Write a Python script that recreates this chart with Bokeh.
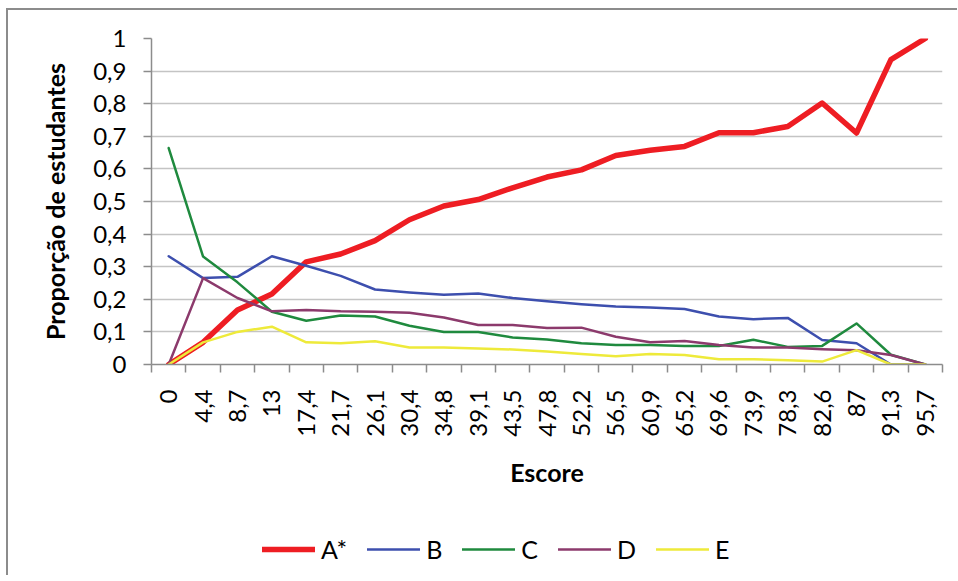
import math
from bokeh.plotting import figure
from bokeh.layouts import column
from bokeh.models import Range1d, FixedTicker, Legend, LegendItem
from bokeh.embed import file_html
from bokeh.resources import INLINE

categories = ["0", "4,4", "8,7", "13", "17,4", "21,7", "26,1", "30,4", "34,8", "39,1",
              "43,5", "47,8", "52,2", "56,5", "60,9", "65,2", "69,6", "73,9", "78,3",
              "82,6", "87", "91,3", "95,7"]

serie_a = [0, 0.068, 0.167, 0.216, 0.315, 0.339, 0.38, 0.444, 0.486, 0.506, 0.542, 0.575,
           0.597, 0.641, 0.657, 0.669, 0.711, 0.711, 0.730, 0.802, 0.71, 0.935, 1.0]
serie_b = [0.332, 0.265, 0.269, 0.332, 0.303, 0.272, 0.23, 0.221, 0.214, 0.218, 0.204, 0.194,
           0.185, 0.178, 0.175, 0.17, 0.147, 0.139, 0.143, 0.075, 0.065, 0, 0]
serie_c = [0.664, 0.331, 0.252, 0.162, 0.134, 0.15, 0.147, 0.119, 0.1, 0.1, 0.083, 0.077,
           0.065, 0.06, 0.06, 0.057, 0.057, 0.076, 0.054, 0.057, 0.126, 0.03, 0]
serie_d = [0, 0.265, 0.204, 0.163, 0.167, 0.163, 0.162, 0.159, 0.144, 0.121, 0.121, 0.112,
           0.113, 0.085, 0.068, 0.072, 0.06, 0.052, 0.052, 0.047, 0.044, 0.029, 0]
serie_e = [0, 0.068, 0.1, 0.116, 0.068, 0.065, 0.071, 0.052, 0.052, 0.049, 0.046, 0.04,
           0.032, 0.025, 0.032, 0.029, 0.016, 0.016, 0.013, 0.009, 0.044, 0, 0]

series_names = ["A*", "B", "C", "D", "E"]

y_ticks = [0, 0.1, 0.2, 0.3, 0.4, 0.5, 0.6, 0.7, 0.8, 0.9, 1.0]
y_tick_labels = ["0", "0,1", "0,2", "0,3", "0,4", "0,5", "0,6", "0,7", "0,8", "0,9", "1"]

FONT = "Lato"
GRAY = "#8c8c8c"
BLACK = "#000000"

n = len(categories)
xs = [i + 0.5 for i in range(n)]

p = figure(width=949, height=505, output_backend="svg", toolbar_location=None,
           x_range=Range1d(0, n), y_range=Range1d(0, 1),
           min_border_left=143, min_border_right=15, min_border_top=28, min_border_bottom=151)
p.outline_line_color = None
p.background_fill_color = "white"
p.border_fill_color = "white"

# x axis
p.xaxis.ticker = FixedTicker(ticks=xs, minor_ticks=list(range(n + 1)))
p.xaxis.major_label_overrides = {x: c for x, c in zip(xs, categories)}
p.xaxis.major_label_orientation = math.pi / 2
p.xaxis.major_tick_out = 0
p.xaxis.major_tick_in = 0
p.xaxis.minor_tick_out = 8
p.xaxis.minor_tick_in = 0
p.xaxis.minor_tick_line_color = GRAY
p.xaxis.minor_tick_line_width = 1.5
p.xaxis.axis_line_color = GRAY
p.xaxis.axis_line_width = 1.5
p.xaxis.major_label_standoff = 17
p.xaxis.major_label_text_font = FONT
p.xaxis.major_label_text_font_size = "24px"
p.xaxis.major_label_text_color = BLACK
p.xaxis.axis_label = "Escore"
p.xaxis.axis_label_text_font = FONT
p.xaxis.axis_label_text_font_style = "bold"
p.xaxis.axis_label_text_font_size = "25px"
p.xaxis.axis_label_text_color = BLACK
p.xaxis.axis_label_standoff = 17
p.xgrid.grid_line_color = None

# y axis
p.yaxis.ticker = FixedTicker(ticks=y_ticks)
p.yaxis.major_label_overrides = {t: l for t, l in zip(y_ticks, y_tick_labels)}
p.yaxis.major_tick_out = 8
p.yaxis.major_tick_in = 0
p.yaxis.major_tick_line_color = GRAY
p.yaxis.major_tick_line_width = 1.5
p.yaxis.minor_tick_line_color = None
p.yaxis.axis_line_color = GRAY
p.yaxis.axis_line_width = 1.5
p.yaxis.major_label_standoff = 17
p.yaxis.major_label_text_font = FONT
p.yaxis.major_label_text_font_size = "24px"
p.yaxis.major_label_text_color = BLACK
p.yaxis.axis_label = "Proporção de estudantes"
p.yaxis.axis_label_text_font = FONT
p.yaxis.axis_label_text_font_style = "bold"
p.yaxis.axis_label_text_font_size = "25px"
p.yaxis.axis_label_text_color = BLACK
p.yaxis.axis_label_standoff = 20
p.ygrid.grid_line_color = "#c4c4c4"
p.ygrid.grid_line_width = 1.5

colors = ["#ee1d23", "#3d4fae", "#1f8a3e", "#8c3a6c", "#eeea3a"]
widths = [5.5, 2.5, 2.5, 2.5, 2.5]
data = [serie_a, serie_b, serie_c, serie_d, serie_e]

for ys, col, w in zip(data, colors, widths):
    p.line(xs, ys, line_color=col, line_width=w, line_join="round", line_cap="round")

# legend strip below the chart (its series lie outside its visible range)
lg = figure(width=949, height=60, output_backend="svg", toolbar_location=None,
            x_axis_type=None, y_axis_type=None, min_border=0,
            x_range=Range1d(-10, -9), y_range=Range1d(-10, -9))
lg.outline_line_color = None
lg.xgrid.grid_line_color = None
lg.ygrid.grid_line_color = None
items = []
for name, ys, col, w in zip(series_names, data, colors, widths):
    r = lg.line(xs, ys, line_color=col, line_width=w, line_cap="round")
    items.append(LegendItem(label=name, renderers=[r]))
legend = Legend(items=items, orientation="horizontal", location=(111, 11),
                label_text_font=FONT, label_text_font_size="25px", label_text_color=BLACK,
                glyph_width=53, glyph_height=20, label_standoff=6, spacing=20,
                label_width=0, padding=0, margin=0, border_line_color=None,
                background_fill_alpha=0)
lg.add_layout(legend, "center")

layout = column(p, lg, spacing=0)
layout.styles = {"border-left": "2px solid #8c8c8c", "border-top": "2px solid #8c8c8c",
                 "margin-left": "6px", "margin-top": "8px"}

open("out.html", "w").write(file_html(layout, INLINE))
